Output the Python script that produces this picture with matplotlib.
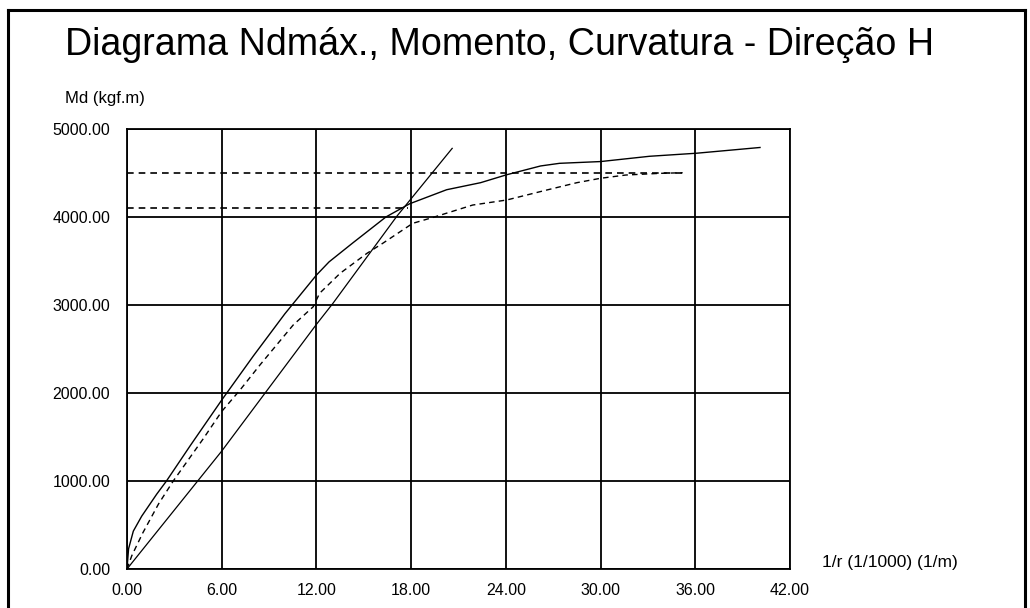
"""Diagrama Ndmax., Momento, Curvatura - Direcao H."""

import matplotlib
matplotlib.use("Agg")
import matplotlib.pyplot as plt
from matplotlib.lines import Line2D

plt.rcParams['font.family'] = ['Liberation Sans', 'DejaVu Sans']

# main moment-curvature curve (solid)
curv_main = [0.0, 0.1, 0.4, 0.93, 1.88, 2.5, 4.0, 6.0, 8.0, 10.0, 12.0, 12.8,
             14.3, 16.4, 17.9, 20.25, 22.4, 24.05, 26.2, 27.4, 30.0, 33.1, 36.1, 40.1]
mom_main = [0, 230, 430, 600, 850, 1000, 1400, 1920, 2420, 2900, 3340, 3490,
            3705, 4000, 4150, 4310, 4390, 4480, 4580, 4610, 4630, 4690, 4725, 4790]

# secant / linear stiffness line (solid)
curv_line = [0.0, 6.0, 8.75, 12.0, 13.05, 17.1, 20.6]
mom_line = [0, 1340, 2000, 2780, 3020, 4010, 4780]

# reference curve (dashed)
curv_ref = [0.0, 0.3, 1.0, 2.0, 2.93, 4.83, 6.0, 7.16, 8.42, 10.53, 11.8, 12.2, 13.5,
            15.2, 16.2, 18.1, 19.4, 21.9, 24.05, 26.6, 28.5, 30.0, 31.6, 33.75, 35.2]
mom_ref = [0, 150, 410, 740, 1000, 1480, 1790, 2034, 2318, 2773, 2981, 3133, 3360,
           3587, 3701, 3928, 3996, 4136, 4193, 4307, 4390, 4440, 4477, 4496, 4503]

# horizontal limit lines (dashed)
lim_values = [4500, 4100]
lim_ends = [35.3, 17.8]

x_ticks = [0, 6, 12, 18, 24, 30, 36, 42]
y_ticks = [0, 1000, 2000, 3000, 4000, 5000]

fig = plt.figure(figsize=(10.3, 6.08), dpi=100)
ax = fig.add_axes([127 / 1030, 1 - 569 / 608, 663 / 1030, 440 / 608])

ax.set_xlim(0, 42)
ax.set_ylim(0, 5000)
ax.set_xticks(x_ticks)
ax.set_yticks(y_ticks)
ax.set_xticklabels([f"{v:.2f}" for v in x_ticks])
ax.set_yticklabels([f"{v:.2f}" for v in y_ticks])
ax.tick_params(length=0, labelsize=11.5)
ax.tick_params(axis="y", pad=12)
ax.tick_params(axis="x", pad=10)
ax.grid(True, color="black", linewidth=1.3)
for s in ax.spines.values():
    s.set_linewidth(1.3)

for val, end in zip(lim_values, lim_ends):
    ax.plot([0, end], [val, val], color="black", linewidth=1.2, linestyle=(0, (4, 3)))

ax.plot(curv_main, mom_main, color="black", linewidth=1.0)
ax.plot(curv_line, mom_line, color="black", linewidth=0.9)
ax.plot(curv_ref, mom_ref, color="black", linewidth=1.0, linestyle=(0, (4, 3)))

fig.text(65 / 1030, 1 - 45 / 608, "Diagrama Ndmáx., Momento, Curvatura - Direção H",
         fontsize=27.1, va="center", ha="left")
fig.text(65 / 1030, 1 - 99 / 608, "Md (kgf.m)", fontsize=12, va="center", ha="left")
fig.text(822 / 1030, 1 - 563 / 608, "1/r (1/1000) (1/m)", fontsize=12.5, va="center", ha="left")

# outer frame
for xs, ys in [([8, 8], [10, 608]), ([8, 1025], [10, 10]), ([1025, 1025], [10, 608])]:
    fig.add_artist(Line2D([x / 1030 for x in xs], [1 - y / 608 for y in ys],
                          color="black", linewidth=2.2))

plt.savefig("out.png", dpi=100)
plt.close()
